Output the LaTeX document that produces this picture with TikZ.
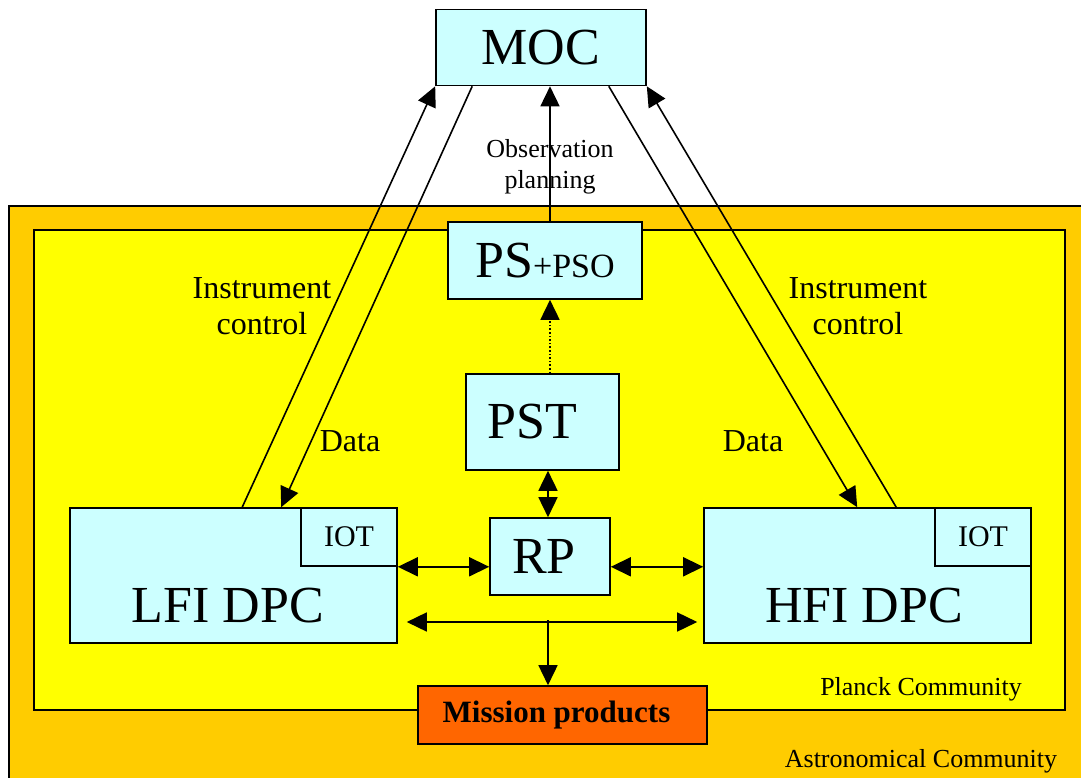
\documentclass[tikz,border=0pt]{standalone}
\usepackage{fontspec}
\setmainfont{Liberation Serif}
\usepackage{tikz}
\usetikzlibrary{arrows.meta}
\definecolor{astrocol}{HTML}{FFCC00}
\definecolor{planckcol}{HTML}{FFFF00}
\definecolor{boxcol}{HTML}{CCFFFF}
\definecolor{prodcol}{HTML}{FF6600}

\begin{document}
\begin{tikzpicture}[x=1pt,y=-1pt,
    box/.style={draw,fill=boxcol,line width=1.6pt,inner sep=0pt,font=\fontsize{52}{52}\selectfont},
    iot/.style={box,anchor=north east,minimum width=96pt,minimum height=58pt,font=\fontsize{30}{30}\selectfont},
    lbl/.style={align=center,font=\fontsize{32}{36}\selectfont},
    small/.style={align=center,font=\fontsize{26}{31}\selectfont},
    arr/.style={line width=1.6pt,-{Triangle[length=20pt,width=19pt]}},
    dbl/.style={line width=1.6pt,{Triangle[length=20pt,width=19pt]}-{Triangle[length=20pt,width=19pt]}}]
          \useasboundingbox (0,0) rectangle (1081,778);
          \fill[white] (0,0) rectangle (1081,778);
          % communities
          \draw[fill=astrocol,line width=1.6pt] (9,206) rectangle (1100,800);
          \draw[fill=planckcol,line width=1.6pt] (34,230) rectangle (1065,710);
          \node[small] (astro) at (921,761) {Astronomical Community};
          \node[small] (planck) at (921,689) {Planck Community};
          % MOC
          \node[box,minimum width=210pt,minimum height=76pt] (moc) at (541,47.5) {MOC};
          % PS and PST
          \node[box,minimum width=194pt,minimum height=77pt] (ps) at (545,260.5) {PS\fontsize{34}{34}\selectfont+PSO};
          \node[box,minimum width=153pt,minimum height=96pt] (pst) at (542.5,422) {\hspace*{-20pt}PST};
          \node[box,minimum width=120pt,minimum height=77pt] (rp) at (550,556.5) {\hspace*{-12pt}RP};
          % DPCs
          \node[box,minimum width=327pt,minimum height=135pt] (lfi) at (233.5,575.5) {};
          \node[iot] (lfiiot) at (lfi.north east) {IOT};
          \node[font=\fontsize{52}{52}\selectfont] (lfitxt) at (228,606) {LFI DPC};
          \node[box,minimum width=327pt,minimum height=135pt] (hfi) at (867.5,575.5) {};
          \node[iot] (hfiiot) at (hfi.north east) {IOT};
          \node[font=\fontsize{52}{52}\selectfont] (hfitxt) at (864,606) {HFI DPC};
          % mission products
          \node[box,fill=prodcol,minimum width=289pt,minimum height=58pt,font=\fontsize{31}{31}\selectfont\bfseries] (prod) at (562.5,715) {\hspace*{-12pt}Mission products};
          % observation planning
          \node[small] (obs) at (550,167) {Observation\\planning};
          \draw[arr] (ps.north -| obs) -- (moc.south -| obs);
          \draw[arr,dotted] (pst.north -| obs) -- (ps.south -| obs);
          % links around RP
          \coordinate (bus) at (548,622);
          \draw[dbl] (pst.south -| bus) -- (rp.north -| bus);
          \draw[dbl] (lfiiot.south east) -- (rp.west |- lfiiot.south east);
          \draw[dbl] (rp.east |- hfiiot.south) -- (hfi.west |- hfiiot.south);
          \draw[dbl,shorten <=9pt,shorten >=6pt] (lfi.east |- bus) -- (hfi.west |- bus);
          \draw[arr] ([yshift=2pt]bus) -- (bus |- prod.north);
          % instrument control and data
          \draw[arr] ([xshift=173pt]lfi.north west) -- (moc.south west);
          \draw[arr] ([xshift=37pt]moc.south west) -- ([xshift=212pt]lfi.north west);
          \draw[arr] ([xshift=-38pt]moc.south east) -- ([xshift=154pt]hfi.north west);
          \draw[arr] ([xshift=193pt]hfi.north west) -- (moc.south east);
          \node[lbl] (ctrll) at (262,306) {Instrument\\control};
          \node[lbl] (datal) at (350,441) {Data};
          \node[lbl] (ctrlr) at (858,306) {Instrument\\control};
          \node[lbl] (datar) at (753,441) {Data};
        \end{tikzpicture}
\end{document}
